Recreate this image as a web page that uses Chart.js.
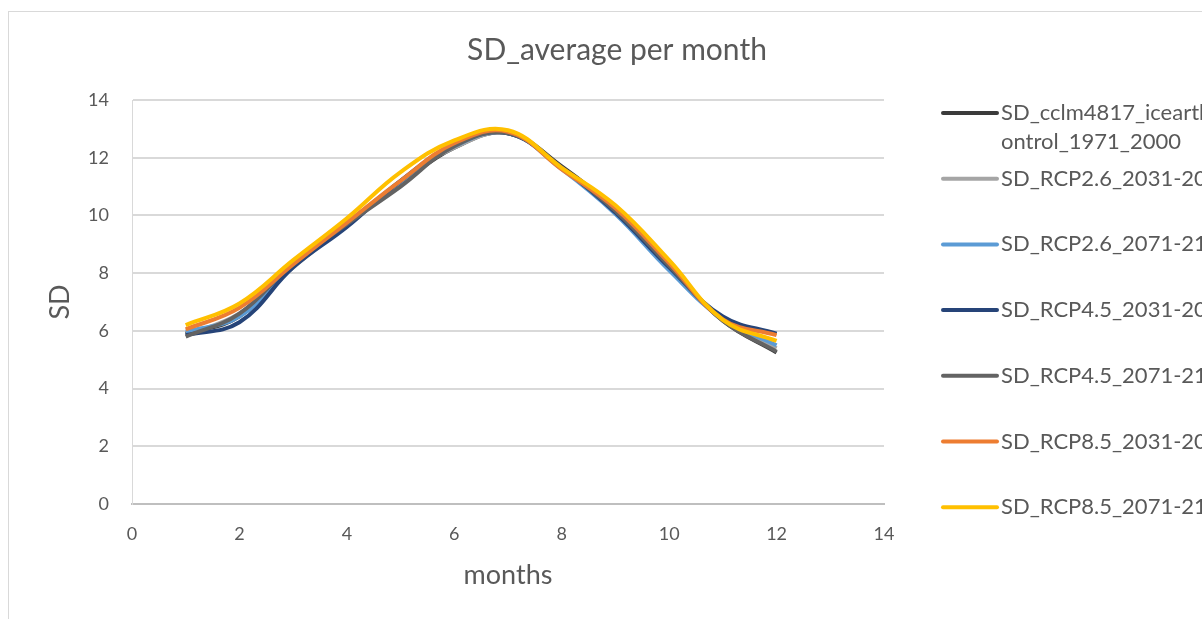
<!DOCTYPE html>
<html>
<head>
<meta charset="utf-8">
<script src="https://cdn.jsdelivr.net/npm/chart.js@4.4.1/dist/chart.umd.min.js"></script>
<style>
  html, body { margin: 0; padding: 0; background: #fff; overflow: hidden; }
  #wrap { position: absolute; left: 0; top: 0; width: 1234px; height: 619px; }
</style>
</head>
<body>
<div id="wrap"><canvas id="sd-chart" width="1234" height="619"></canvas></div>
<script>
// SD average per month, one array per scenario
var months = [1, 2, 3, 4, 5, 6, 7, 8, 9, 10, 11, 12];
var sdControl  = [5.90, 6.50, 8.35, 9.75, 11.10, 12.35, 12.85, 11.70, 10.20, 8.25, 6.35, 5.25];
var sdRcp26Mid = [5.85, 6.60, 8.20, 9.70, 11.20, 12.35, 12.85, 11.65, 10.15, 8.20, 6.40, 5.40];
var sdRcp26End = [5.97, 6.50, 8.25, 9.70, 11.15, 12.40, 12.85, 11.60, 10.05, 8.10, 6.40, 5.50];
var sdRcp45Mid = [5.85, 6.30, 8.20, 9.60, 11.20, 12.45, 12.85, 11.65, 10.10, 8.20, 6.50, 5.90];
var sdRcp45End = [5.80, 6.60, 8.35, 9.70, 11.00, 12.40, 12.85, 11.65, 10.15, 8.25, 6.35, 5.28];
var sdRcp85Mid = [6.05, 6.80, 8.30, 9.75, 11.20, 12.50, 12.90, 11.60, 10.25, 8.35, 6.40, 5.85];
var sdRcp85End = [6.20, 6.95, 8.45, 9.90, 11.50, 12.60, 12.95, 11.65, 10.35, 8.45, 6.38, 5.65];

var seriesNames = [
  "SD_cclm4817_icearth_control_1971_2000",
  "SD_RCP2.6_2031-2060",
  "SD_RCP2.6_2071-2100",
  "SD_RCP4.5_2031-2060",
  "SD_RCP4.5_2071-2100",
  "SD_RCP8.5_2031-2060",
  "SD_RCP8.5_2071-2100"
];
var seriesValues = [sdControl, sdRcp26Mid, sdRcp26End, sdRcp45Mid, sdRcp45End, sdRcp85Mid, sdRcp85End];
var seriesColors = ["#3b3b3b", "#a5a5a5", "#5b9bd5", "#264478", "#636363", "#ed7d31", "#ffc000"];

var xTicks = [0, 2, 4, 6, 8, 10, 12, 14];
var yTicks = [0, 2, 4, 6, 8, 10, 12, 14];

var chartTitle = "SD_average per month";
var textColor = "#595959";
var fontName = "Lato";

// split a label into lines that fit maxW (character wrap, like Excel does without spaces)
function wrapText(ctx, text, maxW) {
  var lines = [], line = "";
  for (var i = 0; i < text.length; i++) {
    var next = line + text[i];
    if (line && ctx.measureText(next).width > maxW) {
      lines.push(line);
      line = text[i];
    } else {
      line = next;
    }
  }
  lines.push(line);
  return lines;
}

// frame + title centred on the whole chart object, like Excel
var chartFrame = {
  id: "chartFrame",
  beforeDraw: function (chart) {
    var ctx = chart.ctx;
    ctx.save();
    ctx.strokeStyle = "#d9d9d9";
    ctx.lineWidth = 1;
    ctx.strokeRect(8.5, 11.5, 1400, 800);
    ctx.font = "30px " + fontName;
    ctx.fillStyle = textColor;
    ctx.textAlign = "center";
    ctx.textBaseline = "middle";
    ctx.fillText(chartTitle, chart.width / 2, 50);
    ctx.restore();
  }
};

var sideLegend = {
  id: "sideLegend",
  afterDraw: function (chart) {
    var ctx = chart.ctx, area = chart.chartArea;
    var x0 = area.right + 59, y0 = area.top + 13, step = 65.7;
    ctx.save();
    ctx.font = "22px " + fontName;
    ctx.fillStyle = textColor;
    ctx.textBaseline = "middle";
    ctx.textAlign = "left";
    chart.data.datasets.forEach(function (ds, i) {
      var y = y0 + i * step;
      ctx.strokeStyle = ds.borderColor;
      ctx.lineWidth = 4;
      ctx.lineCap = "round";
      ctx.beginPath();
      ctx.moveTo(x0, y);
      ctx.lineTo(x0 + 54, y);
      ctx.stroke();
      wrapText(ctx, ds.label, 236).forEach(function (line, k) {
        ctx.fillText(line, x0 + 58, y + k * 29);
      });
    });
    ctx.restore();
  }
};

var datasets = seriesValues.map(function (vals, i) {
  return {
    label: seriesNames[i],
    data: vals.map(function (v, k) { return { x: months[k], y: v }; }),
    borderColor: seriesColors[i],
    backgroundColor: seriesColors[i],
    borderWidth: 4,
    pointRadius: 0,
    tension: 0.4,
    fill: false,
    order: seriesValues.length - 1 - i
  };
});

new Chart(document.getElementById("sd-chart").getContext("2d"), {
  type: "line",
  data: { datasets: datasets },
  options: {
    responsive: false,
    devicePixelRatio: 1,
    animation: false,
    layout: { padding: { left: 0, right: 350, top: 100, bottom: 0 } },
    plugins: {
      legend: { display: false },
      tooltip: { enabled: false },
      title: { display: false }
    },
    scales: {
      x: {
        type: "linear",
        min: 0,
        max: 14,
        afterBuildTicks: function (s) { s.ticks = xTicks.map(function (v) { return { value: v }; }); },
        afterFit: function (s) { s.height = 115; },
        grid: { display: false, drawTicks: false },
        border: { display: true, color: "#bfbfbf", width: 2 },
        ticks: { color: textColor, font: { family: fontName, size: 18 }, padding: 19, maxRotation: 0 },
        title: {
          display: true,
          text: "months",
          color: textColor,
          font: { family: fontName, size: 27 },
          padding: { top: 0, bottom: 28 }
        }
      },
      y: {
        type: "linear",
        min: 0,
        max: 14,
        afterBuildTicks: function (s) { s.ticks = yTicks.map(function (v) { return { value: v }; }); },
        afterFit: function (s) { s.width = 132; },
        grid: { color: "#d9d9d9", lineWidth: 2, drawTicks: false },
        border: { display: true, color: "#d9d9d9", width: 1 },
        ticks: { color: textColor, font: { family: fontName, size: 18 }, padding: 23 },
        title: {
          display: true,
          text: "SD",
          color: textColor,
          font: { family: fontName, size: 27 },
          padding: { top: 44, bottom: 0 }
        }
      }
    }
  },
  plugins: [chartFrame, sideLegend]
});
</script>
</body>
</html>
